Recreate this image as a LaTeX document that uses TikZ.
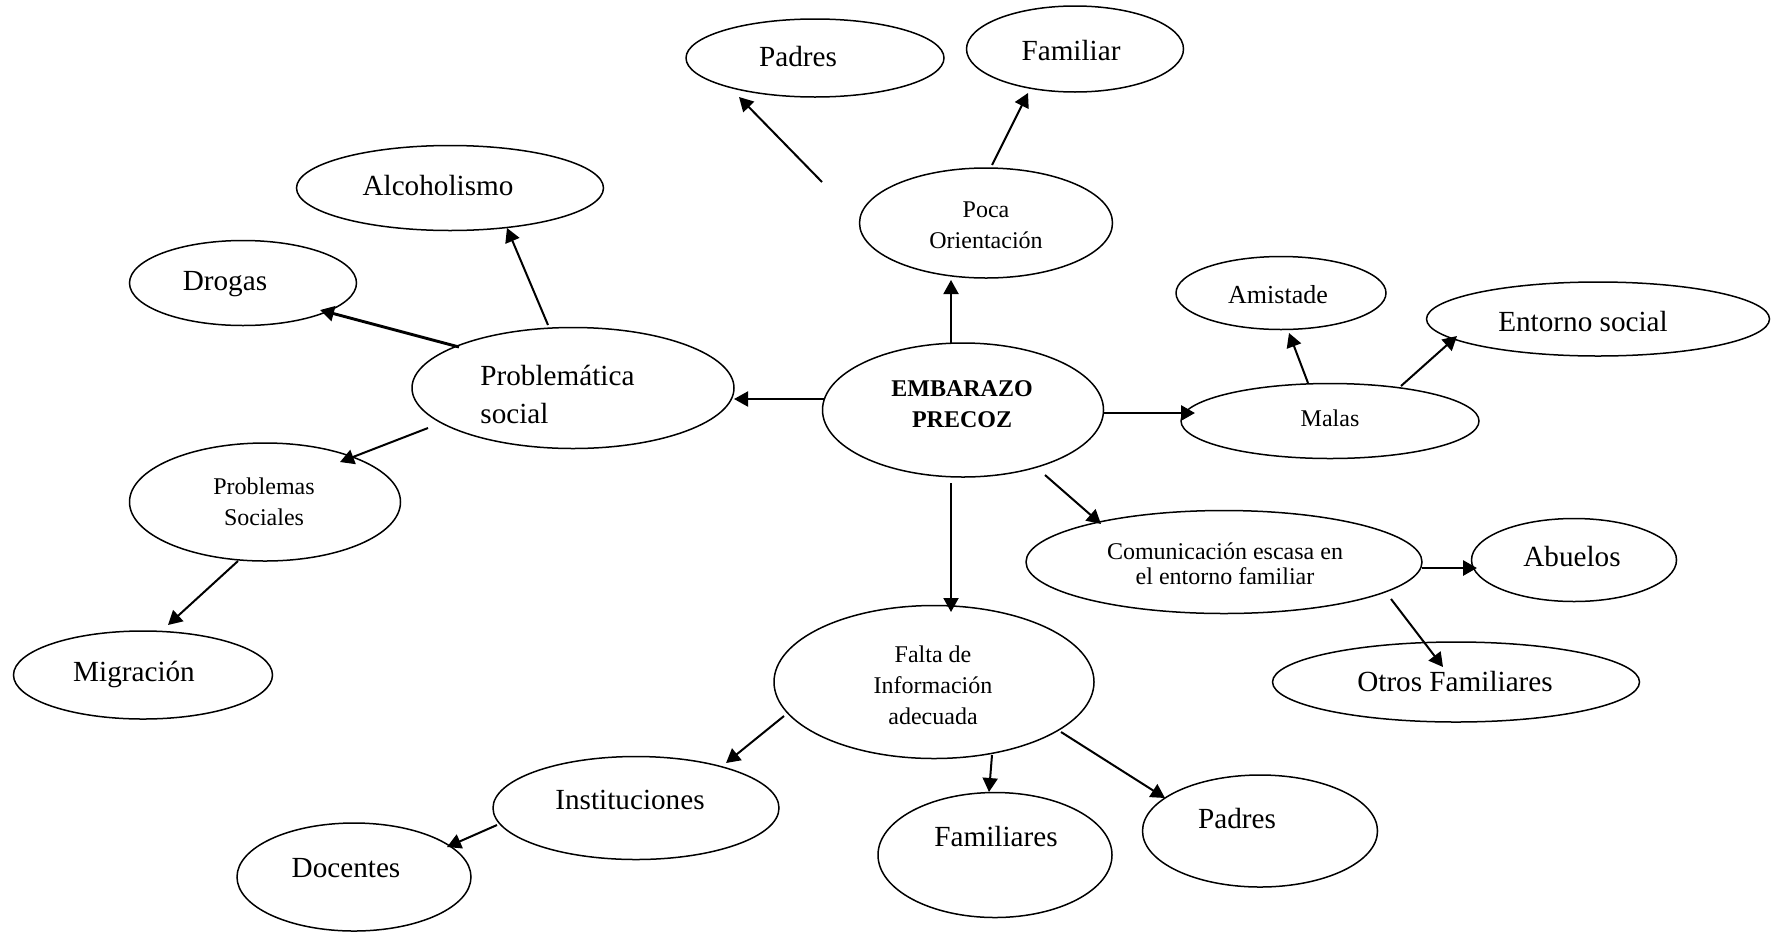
\documentclass[tikz,border=0pt]{standalone}
\usepackage{fontspec}
\setmainfont{Liberation Serif}
\usetikzlibrary{arrows.meta,shapes.geometric,calc}
\tikzset{
  oval/.style={ellipse, draw, line width=0.75pt, inner sep=0pt},
  txt/.style={inner sep=0pt, align=center},
  txtbig/.style={txt, font=\fontsize{14.6}{19}\selectfont},
  txtmid/.style={txt, font=\fontsize{13}{16}\selectfont},
  txtsmall/.style={txt, font=\fontsize{12}{15.5}\selectfont},
  oneline/.style={text height=0.85em, text depth=0pt},
  arr/.style={-{Triangle[length=7pt,width=7.5pt]}, line width=1pt},
  arrthick/.style={arr, line width=1.45pt}
}
\begin{document}
\begin{tikzpicture}[x=0.5pt,y=-0.5pt]
\useasboundingbox (0,0) rectangle (1775,932);

% ellipses (sizes in pt, half of the drawing units)
\node[oval, minimum width=129pt,   minimum height=39pt]   (padT)  at (815,58)   {};
\node[oval, minimum width=108.5pt, minimum height=43pt]   (famil) at (1075,49)  {};
\node[oval, minimum width=153.5pt, minimum height=42.5pt] (alco)  at (450,188)  {};
\node[oval, minimum width=113.5pt, minimum height=42.5pt] (drog)  at (243,283)  {};
\node[oval, minimum width=161pt,   minimum height=60.5pt] (prob)  at (573,388)  {};
\node[oval, minimum width=140.5pt, minimum height=67pt]   (emb)   at (963,410)  {};
\node[oval, minimum width=126.5pt, minimum height=55pt]   (poca)  at (986,223)  {};
\node[oval, minimum width=105pt,   minimum height=36.5pt] (amis)  at (1281,293) {};
\node[oval, minimum width=171.5pt, minimum height=37pt]   (ent)   at (1598,319) {};
\node[oval, minimum width=149pt,   minimum height=37.5pt] (mal)   at (1330,421) {};
\node[oval, minimum width=198pt,   minimum height=51.5pt] (com)   at (1224,562) {};
\node[oval, minimum width=102.5pt, minimum height=41.5pt] (abu)   at (1574,560) {};
\node[oval, minimum width=183.5pt, minimum height=40pt]   (otr)   at (1456,682) {};
\node[oval, minimum width=160pt,   minimum height=76.5pt] (fal)   at (934,682)  {};
\node[oval, minimum width=117pt,   minimum height=62.5pt] (famis) at (995,855)  {};
\node[oval, minimum width=117.5pt, minimum height=56pt]   (padB)  at (1260,831) {};
\node[oval, minimum width=143pt,   minimum height=51.5pt] (inst)  at (636,808)  {};
\node[oval, minimum width=117pt,   minimum height=54pt]   (doc)   at (354,877)  {};
\node[oval, minimum width=135.5pt, minimum height=59pt]   (psoc)  at (265,502)  {};
\node[oval, minimum width=129.5pt, minimum height=44pt]   (mig)   at (143,675)  {};

% labels
\node[txtbig, oneline] (padTt)  at (798,58)   {Padres};
\node[txtbig, oneline] (familt) at (1071,52)  {Familiar};
\node[txtbig, oneline] (alcot)  at (438,187)  {Alcoholismo};
\node[txtbig, oneline] (drogt)  at (225,282)  {Drogas};
\node[txtbig, align=left, anchor=west] (probt) at (480,394) {Problemática\\social};
\node[txt, font=\fontsize{12}{15.5}\selectfont\bfseries] (embt) at (962,404) {EMBARAZO\\PRECOZ};
\node[txtsmall] (pocat) at (986,225) {Poca\\Orientación};
\node[txtmid, oneline] (amist) at (1278,295) {Amistade};
\node[txtbig, oneline] (entt)  at (1583,323) {Entorno social};
\node[txtsmall, oneline] (malt) at (1330,418) {Malas};
\node[txt, font=\fontsize{12}{12.5}\selectfont] (comt) at (1225,564) {Comunicación escasa en\\el entorno familiar};
\node[txtbig, oneline] (abut)  at (1572,558) {Abuelos};
\node[txtbig, oneline] (otrt)  at (1455,683) {Otros Familiares};
\node[txtsmall] (falt) at (933,685) {Falta de\\Información\\adecuada};
\node[txtbig, oneline] (famist) at (996,838)  {Familiares};
\node[txtbig, oneline] (padBt)  at (1237,820) {Padres};
\node[txtbig, oneline] (instt)  at (630,801)  {Instituciones};
\node[txtbig, oneline] (doct)   at (346,869)  {Docentes};
\node[txtsmall] (psoct) at (264,502) {Problemas\\Sociales};
\node[txtbig, oneline] (migt)   at (134,673)  {Migración};

% free tail of the arrow towards the upper Padres
\coordinate (pocatail) at ($(poca)+(-164,-41)$);

% connectors
\draw[arr]      ($(emb)+(-139,-11)$) -- ($(prob)+(161,11)$);
\draw[arr]      ($(emb)+(-12,-67)$)  -- ($(poca)+(-35,57)$);
\draw[arr]      ($(poca)+(6,-58)$)   -- ($(famil)+(-47,44)$);
\draw[arr]      (pocatail)           -- ($(padT)+(-76,39)$);
\draw[arr]      ($(prob)+(-25,-63)$) -- ($(alco)+(57,40)$);
\draw[arrthick] ($(prob)+(-114,-41)$) -- ($(drog)+(77,27)$);
\draw[arr]      ($(prob)+(-145,40)$) -- ($(psoc)+(75,-40)$);
\draw[arr]      ($(psoc)+(-27,59)$)  -- ($(mig)+(25,-50)$);
\draw[arrthick] ($(emb)+(141,3)$)    -- ($(mal)+(-135,-8)$);
\draw[arr]      ($(mal)+(-22,-38)$)  -- ($(amis)+(8,40)$);
\draw[arr]      ($(mal)+(71,-35)$)   -- ($(ent)+(-141,17)$);
\draw[arr]      ($(emb)+(-12,73)$)   -- ($(fal)+(17,-70)$);
\draw[arr]      ($(emb)+(82,65)$)    -- ($(com)+(-123,-38)$);
\draw[arrthick] ($(com)+(198,6)$)    -- ($(abu)+(-97,8)$);
\draw[arr]      ($(com)+(167,37)$)   -- ($(otr)+(-13,-15)$);
\draw[arr]      ($(fal)+(58,73)$)    -- ($(famis)+(-6,-63)$);
\draw[arr]      ($(fal)+(127,50)$)   -- ($(padB)+(-95,-33)$);
\draw[arr]      ($(fal)+(-150,34)$)  -- ($(inst)+(90,-45)$);
\draw[arr]      ($(inst)+(-139,17)$) -- ($(doc)+(93,-30)$);
\end{tikzpicture}
\end{document}
